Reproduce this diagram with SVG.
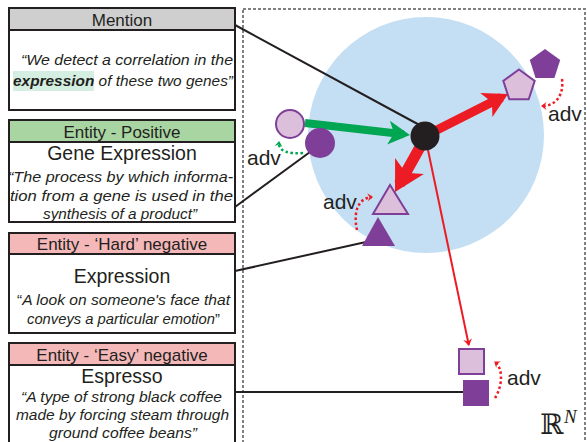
<svg xmlns="http://www.w3.org/2000/svg" width="587" height="442" viewBox="0 0 587 442">
<defs>
<style>
.box{fill:#fff;stroke:#231f20;stroke-width:2}
.hd{stroke:#231f20;stroke-width:2}
.ht{font-family:"Liberation Sans",Arial,sans-serif;font-size:17px;fill:#231f20;text-anchor:middle}
.ttl{font-family:"Liberation Sans",Arial,sans-serif;font-size:19.5px;fill:#231f20;text-anchor:middle}
.it{font-family:"Liberation Sans",Arial,sans-serif;font-size:14.5px;font-style:italic;fill:#231f20}
.adv{font-family:"Liberation Sans",Arial,sans-serif;font-size:21px;fill:#231f20}
.blk{stroke:#231f20;stroke-width:2;fill:none}
.pale{fill:#dcc0db;stroke:#7f3f98;stroke-width:2}
.dark{fill:#7f3f98}
.dotr{fill:none;stroke:#ed1c24;stroke-width:2.5;stroke-dasharray:2.5 2.5}
.dotg{fill:none;stroke:#00a651;stroke-width:2.5;stroke-dasharray:2.5 2.5}
</style>
<marker id="headG" markerUnits="strokeWidth" viewBox="-3 -1.6 3.2 3.2" markerWidth="3.2" markerHeight="3.2" refX="-0.8" refY="0" orient="auto" overflow="visible"><path d="M0,0 L-2.7,-1.5 L-2,0 L-2.7,1.5Z" fill="#00a651"/></marker>
<marker id="headR" markerUnits="strokeWidth" viewBox="-3 -1.6 3.2 3.2" markerWidth="3.2" markerHeight="3.2" refX="-0.8" refY="0" orient="auto" overflow="visible"><path d="M0,0 L-2.7,-1.5 L-2,0 L-2.7,1.5Z" fill="#ed1c24"/></marker>
<marker id="headThin" markerUnits="userSpaceOnUse" viewBox="-8 -5 9 10" markerWidth="9" markerHeight="10" refX="-1" refY="0" orient="auto" overflow="visible"><path d="M0,0 L-7,-4.5 L-4.5,0 L-7,4.5Z" fill="#ed1c24"/></marker>
<marker id="advR" markerUnits="userSpaceOnUse" viewBox="-7 -5 8 10" markerWidth="8" markerHeight="10" refX="-1" refY="0" orient="auto" overflow="visible"><path d="M0,0 L-5.5,-4 L-3.5,0 L-5.5,4Z" fill="#ed1c24"/></marker>
<marker id="advG" markerUnits="userSpaceOnUse" viewBox="-7 -5 8 10" markerWidth="8" markerHeight="10" refX="-1" refY="0" orient="auto" overflow="visible"><path d="M0,0 L-5.5,-4 L-3.5,0 L-5.5,4Z" fill="#00a651"/></marker>
</defs>

<rect width="587" height="442" fill="#fff"/>

<g id="space">
<rect x="243" y="9" width="342" height="460" fill="none" stroke="#808080" stroke-width="2" stroke-dasharray="3 2"/>
<circle cx="426" cy="135" r="118" fill="#c4dff3"/>
<text x="540" y="434" font-family="DejaVu Serif,serif" font-size="28" fill="#231f20">ℝ</text>
<text x="564" y="423" font-family="Liberation Serif,serif" font-style="italic" font-size="19" fill="#231f20">N</text>
</g>

<g id="mention">
<rect class="box" x="9" y="8" width="226" height="102"/>
<rect x="10" y="9" width="224" height="21" fill="#cfcfcf"/>
<line class="hd" x1="9" y1="30" x2="235" y2="30"/>
<text class="ht" x="122" y="26">Mention</text>
<rect x="13" y="71" width="81" height="20" fill="#d4efe1"/>
<text class="it" x="21" y="65" textLength="212" lengthAdjust="spacingAndGlyphs">“We detect a correlation in the</text>
<text class="it" x="13" y="86" textLength="220" lengthAdjust="spacingAndGlyphs"><tspan font-weight="bold">expression</tspan> of these two genes”</text>
</g>

<g id="entity-positive">
<rect class="box" x="9" y="120" width="226" height="102"/>
<rect x="10" y="121" width="224" height="21" fill="#a8d5a2"/>
<line class="hd" x1="9" y1="142" x2="235" y2="142"/>
<text class="ht" x="122" y="138">Entity - Positive</text>
<text class="ttl" x="122" y="160">Gene Expression</text>
<text class="it" x="8" y="182" textLength="225" lengthAdjust="spacingAndGlyphs">“The process by which informa-</text>
<text class="it" x="10" y="201" textLength="223" lengthAdjust="spacingAndGlyphs">tion from a gene is used in the</text>
<text class="it" x="43" y="219" textLength="154" lengthAdjust="spacingAndGlyphs">synthesis of a product”</text>
</g>

<g id="hard-negative">
<rect class="box" x="9" y="233" width="226" height="100"/>
<rect x="10" y="234" width="224" height="20" fill="#f4b8b9"/>
<line class="hd" x1="9" y1="254" x2="235" y2="254"/>
<text class="ht" x="122" y="250">Entity - ‘Hard’ negative</text>
<text class="ttl" x="122" y="283">Expression</text>
<text class="it" x="17" y="305" textLength="213" lengthAdjust="spacingAndGlyphs"><tspan font-style="normal">“</tspan>A look on someone's face that</text>
<text class="it" x="27" y="324" textLength="193" lengthAdjust="spacingAndGlyphs">conveys a particular emotion<tspan font-style="normal">”</tspan></text>
</g>

<g id="easy-negative">
<rect class="box" x="9" y="343" width="226" height="110"/>
<rect x="10" y="344" width="224" height="21" fill="#f4b8b9"/>
<line class="hd" x1="9" y1="365" x2="235" y2="365"/>
<text class="ht" x="122" y="361">Entity - ‘Easy’ negative</text>
<text class="ttl" x="122" y="383">Espresso</text>
<text class="it" x="21" y="402" textLength="201" lengthAdjust="spacingAndGlyphs">“A type of strong black coffee</text>
<text class="it" x="16" y="420" textLength="213" lengthAdjust="spacingAndGlyphs">made by forcing steam through</text>
<text class="it" x="49" y="438" textLength="148" lengthAdjust="spacingAndGlyphs">ground coffee beans”</text>
</g>

<g id="connectors">
<line class="blk" x1="235" y1="25" x2="425" y2="128"/>
<line class="blk" x1="235" y1="207" x2="310" y2="152"/>
<line class="blk" x1="235" y1="271" x2="366" y2="242"/>
<line class="blk" x1="235" y1="392" x2="464" y2="392"/>
<line x1="305" y1="123" x2="403.6" y2="134.3" stroke="#00a651" stroke-width="8" marker-end="url(#headG)"/>
<line x1="425" y1="136" x2="501.6" y2="97.3" stroke="#ed1c24" stroke-width="9" marker-end="url(#headR)"/>
<line x1="424" y1="140" x2="399.3" y2="184.3" stroke="#ed1c24" stroke-width="11" marker-end="url(#headR)"/>
<line x1="428" y1="150" x2="468.8" y2="345" stroke="#ed1c24" stroke-width="2" marker-end="url(#headThin)"/>
<path class="dotr" d="M562,79 C564,95 556,106 542,106" marker-end="url(#advR)"/>
<path class="dotr" d="M357,230 C353,212 358,198 372,197" marker-end="url(#advR)"/>
<path class="dotr" d="M495,398 C503,385 503,368 495,362" marker-end="url(#advR)"/>
<path class="dotg" d="M303,153 C290,154 278,152 279,142" marker-end="url(#advG)"/>
</g>

<g id="anchor">
<circle cx="425" cy="136" r="14.5" fill="#231f20"/>
</g>

<g id="positive">
<circle class="pale" cx="290" cy="124" r="14"/>
<circle class="dark" cx="320" cy="143" r="15"/>
<text class="adv" x="247" y="165">adv</text>
</g>

<g id="pentagon">
<polygon class="dark" points="545,49 560.2,60.1 554.4,77.9 535.6,77.9 529.8,60.1"/>
<polygon class="pale" points="519,69.5 534.7,80.9 528.7,99.3 509.3,99.3 503.3,80.9"/>
<text class="adv" x="548" y="121">adv</text>
</g>

<g id="triangle">
<polygon class="pale" points="390,185 373,214 408,214"/>
<polygon class="dark" points="378,217 362,246 395,246"/>
<text class="adv" x="323" y="209">adv</text>
</g>

<g id="square">
<rect class="pale" x="459" y="349" width="25" height="25"/>
<rect class="dark" x="463" y="380" width="26" height="26"/>
<text class="adv" x="507" y="385">adv</text>
</g>
</svg>
